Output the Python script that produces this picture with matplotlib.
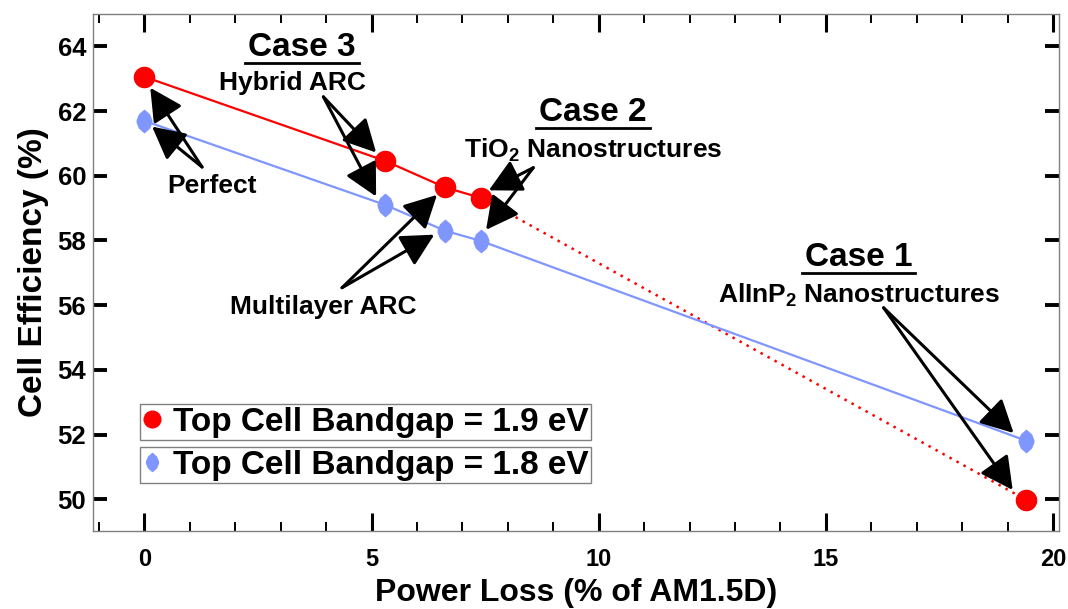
import matplotlib
matplotlib.use('Agg')
import matplotlib.pyplot as plt
from matplotlib.lines import Line2D
from matplotlib.path import Path
from matplotlib.ticker import MultipleLocator

plt.rcParams['font.family'] = ['Liberation Sans', 'DejaVu Sans']
plt.rcParams['font.weight'] = 'bold'
plt.rcParams['mathtext.fontset'] = 'custom'
plt.rcParams['mathtext.bf'] = 'Liberation Sans:bold'
plt.rcParams['mathtext.rm'] = 'Liberation Sans:bold'
plt.rcParams['mathtext.default'] = 'bf'

# data
power_loss = [0.0, 5.3, 6.62, 7.4, 19.41]
eff_19 = [63.06, 60.46, 59.64, 59.32, 49.98]
eff_18 = [61.70, 59.10, 58.30, 57.99, 51.81]
labels = ['Top Cell Bandgap = 1.9 eV', 'Top Cell Bandgap = 1.8 eV']

red = '#ff0000'
blue = '#8096ff'

# tall rounded lens shape for the 1.8 eV series
hexa = Path([(0, 1), (0.45, 0.6), (0.65, 0.1), (0.65, -0.1), (0.45, -0.6), (0, -1),
             (-0.45, -0.6), (-0.65, -0.1), (-0.65, 0.1), (-0.45, 0.6), (0, 1)],
            closed=True)

fig = plt.figure(figsize=(10.68, 6.09), dpi=100)
ax = fig.add_axes([0.0871, 0.128, 0.9045, 0.849])

# lines
ax.plot(power_loss[:4], eff_19[:4], color=red, lw=1.6, zorder=2)
ax.plot(power_loss[3:], eff_19[3:], color=red, lw=1.8, ls=(0, (1, 2.2)), zorder=2)
ax.plot(power_loss, eff_18, color=blue, lw=1.6, zorder=2)
ax.plot(power_loss, eff_19, ls='none', marker='o', ms=14.5, color=red, zorder=3)
ax.plot(power_loss, eff_18, ls='none', marker=hexa, ms=16, color=blue, zorder=3)

ax.set_xlim(-1.13, 20.13)
ax.set_ylim(49.02, 65.0)
ax.xaxis.set_major_locator(MultipleLocator(5))
ax.xaxis.set_minor_locator(MultipleLocator(1))
ax.yaxis.set_major_locator(MultipleLocator(2))

ax.tick_params(axis='x', which='major', direction='in', length=13, width=2.2,
               top=True, labelsize=17, pad=12)
ax.tick_params(axis='x', which='minor', direction='in', length=6.5, width=1.4, top=True)
ax.tick_params(axis='y', which='major', direction='in', length=10, width=2.8,
               right=True, labelsize=18.5, pad=5)
for lab in ax.get_xticklabels() + ax.get_yticklabels():
    lab.set_fontweight('bold')
for s in ax.spines.values():
    s.set_color('#808080')
    s.set_linewidth(1.0)

ax.set_xlabel('Power Loss (% of AM1.5D)', fontsize=23, fontweight='bold', labelpad=5)
ax.set_ylabel('Cell Efficiency (%)', fontsize=24, fontweight='bold', labelpad=6)

# legends, one box per entry
h19 = Line2D([], [], ls='none', marker='o', ms=12, color=red)
h18 = Line2D([], [], ls='none', marker=hexa, ms=13, color=blue)
leg_kw = dict(fontsize=24, frameon=True, fancybox=False, framealpha=1,
              edgecolor='#808080', borderpad=0.08, handlelength=0.55,
              handletextpad=0.35, borderaxespad=0, loc='upper left')
leg1 = ax.legend([h19], [labels[0]], bbox_to_anchor=(0.0487, 0.2456), **leg_kw)
ax.add_artist(leg1)
leg2 = ax.legend([h18], [labels[1]], bbox_to_anchor=(0.0487, 0.1625), **leg_kw)
for lg in (leg1, leg2):
    lg.get_frame().set_linewidth(1.0)
    for t in lg.get_texts():
        t.set_fontweight('bold')

arrow = dict(arrowstyle='-|>,head_length=0.5,head_width=0.26', color='k', lw=2.2,
             mutation_scale=40, shrinkA=0, shrinkB=0)

# annotation labels and arrows
heads = []
heads.append(ax.text(3.47, 63.96, 'Case 3', fontsize=24, ha='center', va='center'))
ax.text(3.25, 62.86, 'Hybrid ARC', fontsize=19, ha='center', va='center')
for tip in [(5.1, 60.72), (5.1, 59.36)]:
    ax.annotate('', xy=tip, xytext=(3.94, 62.44), arrowprops=arrow)

heads.append(ax.text(9.88, 61.96, 'Case 2', fontsize=24, ha='center', va='center'))
ax.text(9.88, 60.8, r'TiO$_{\mathbf{2}}$ Nanostructures', fontsize=19, ha='center', va='center')
for tip in [(7.58, 59.55), (7.52, 58.33)]:
    ax.annotate('', xy=tip, xytext=(8.56, 60.25), arrowprops=arrow)

heads.append(ax.text(15.72, 57.46, 'Case 1', fontsize=24, ha='center', va='center'))
ax.text(15.72, 56.31, r'AlInP$_{\mathbf{2}}$ Nanostructures', fontsize=19, ha='center', va='center')
for tip in [(19.13, 52.05), (19.11, 50.29)]:
    ax.annotate('', xy=tip, xytext=(16.27, 55.92), arrowprops=arrow)

ax.text(1.49, 59.69, 'Perfect', fontsize=19, ha='center', va='center')
for tip in [(0.13, 62.72), (0.17, 61.52)]:
    ax.annotate('', xy=tip, xytext=(1.27, 60.27), arrowprops=arrow)

ax.text(3.93, 55.95, 'Multilayer ARC', fontsize=19, ha='center', va='center')
for tip in [(6.44, 59.41), (6.38, 58.18)]:
    ax.annotate('', xy=tip, xytext=(4.35, 56.54), arrowprops=arrow)

# underline the "Case" headings
fig.canvas.draw()
r = fig.canvas.get_renderer()
for t in heads:
    bb = t.get_window_extent(r)
    y = bb.y0
    fig.add_artist(Line2D([bb.x0 - 3, bb.x1 + 3], [y, y], transform=None,
                          color='k', lw=2.0))

fig.savefig('out.png', dpi=100)
